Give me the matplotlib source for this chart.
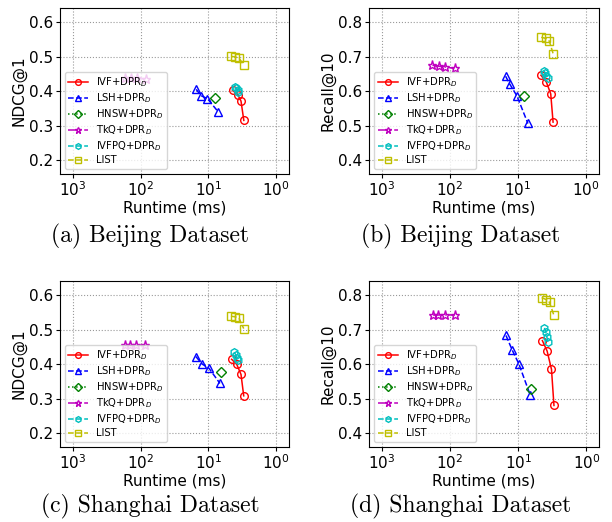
import numpy as np
import matplotlib
matplotlib.use('Agg')
import matplotlib.pyplot as plt

# runtime (ms) / score pairs
methods = ['IVF+DPR$_D$', 'LSH+DPR$_D$', 'HNSW+DPR$_D$', 'TkQ+DPR$_D$', 'IVFPQ+DPR$_D$', 'LIST']

# (a) Beijing, NDCG@1
bj_ndcg_x = {
    'IVF': [4.4, 3.7, 3.3, 3.0],
    'LSH': [15.1, 12.9, 10.3, 7.1],
    'HNSW': [8.1],
    'TkQ': [169, 138, 114, 84],
    'IVFPQ': [4.0, 3.9, 3.7, 3.6],
    'LIST': [4.56, 4.03, 3.55, 3.0],
}
bj_ndcg_y = {
    'IVF': [0.402, 0.390, 0.371, 0.315],
    'LSH': [0.405, 0.387, 0.378, 0.339],
    'HNSW': [0.381],
    'TkQ': [0.438, 0.437, 0.437, 0.436],
    'IVFPQ': [0.412, 0.408, 0.403, 0.398],
    'LIST': [0.501, 0.499, 0.496, 0.476],
}

# (b) Beijing, Recall@10
bj_rec_x = {
    'IVF': [4.57, 3.8, 3.28, 3.03],
    'LSH': [15.1, 13.2, 10.3, 7.1],
    'HNSW': [8.1],
    'TkQ': [180, 145, 118, 85],
    'IVFPQ': [4.12, 3.94, 3.8, 3.63],
    'LIST': [4.52, 3.89, 3.44, 3.03],
}
bj_rec_y = {
    'IVF': [0.646, 0.626, 0.592, 0.510],
    'LSH': [0.643, 0.621, 0.586, 0.506],
    'HNSW': [0.587],
    'TkQ': [0.675, 0.672, 0.670, 0.666],
    'IVFPQ': [0.658, 0.653, 0.645, 0.639],
    'LIST': [0.756, 0.753, 0.745, 0.709],
}

# (c) Shanghai, NDCG@1
sh_ndcg_x = {
    'IVF': [4.54, 3.83, 3.30, 3.01],
    'LSH': [15.3, 12.3, 9.8, 6.75],
    'HNSW': [6.6],
    'TkQ': [172, 145, 116, 85],
    'IVFPQ': [4.14, 3.95, 3.83, 3.70],
    'LIST': [4.64, 4.0, 3.53, 3.01],
}
sh_ndcg_y = {
    'IVF': [0.414, 0.400, 0.370, 0.308],
    'LSH': [0.422, 0.400, 0.388, 0.344],
    'HNSW': [0.376],
    'TkQ': [0.454, 0.454, 0.454, 0.455],
    'IVFPQ': [0.434, 0.427, 0.419, 0.412],
    'LIST': [0.539, 0.537, 0.533, 0.503],
}

# (d) Shanghai, Recall@10
sh_rec_x = {
    'IVF': [4.42, 3.77, 3.25, 2.99],
    'LSH': [15.1, 12.2, 9.8, 6.66],
    'HNSW': [6.44],
    'TkQ': [176, 149, 118, 85],
    'IVFPQ': [4.12, 3.94, 3.80, 3.68],
    'LIST': [4.52, 3.89, 3.47, 2.99],
}
sh_rec_y = {
    'IVF': [0.668, 0.638, 0.585, 0.480],
    'LSH': [0.683, 0.640, 0.601, 0.510],
    'HNSW': [0.529],
    'TkQ': [0.741, 0.741, 0.741, 0.741],
    'IVFPQ': [0.705, 0.693, 0.679, 0.664],
    'LIST': [0.793, 0.787, 0.779, 0.741],
}

keys = ['IVF', 'LSH', 'HNSW', 'TkQ', 'IVFPQ', 'LIST']
styles = {
    'IVF': ('r', 'o', '-'),
    'LSH': ('b', '^', '--'),
    'HNSW': ('g', 'D', ':'),
    'TkQ': ('m', '*', '-.'),
    'IVFPQ': ('c', 'h', '--'),
    'LIST': ('y', 's', '--'),
}

panels = [
    (bj_ndcg_x, bj_ndcg_y, 'NDCG@1', (0.16, 0.64), [0.2, 0.3, 0.4, 0.5, 0.6], '(a) Beijing Dataset'),
    (bj_rec_x, bj_rec_y, 'Recall@10', (0.36, 0.84), [0.4, 0.5, 0.6, 0.7, 0.8], '(b) Beijing Dataset'),
    (sh_ndcg_x, sh_ndcg_y, 'NDCG@1', (0.16, 0.64), [0.2, 0.3, 0.4, 0.5, 0.6], '(c) Shanghai Dataset'),
    (sh_rec_x, sh_rec_y, 'Recall@10', (0.36, 0.84), [0.4, 0.5, 0.6, 0.7, 0.8], '(d) Shanghai Dataset'),
]

rects = [
    [0.098, 0.667, 0.374, 0.317],
    [0.603, 0.667, 0.375, 0.317],
    [0.098, 0.144, 0.374, 0.317],
    [0.603, 0.144, 0.376, 0.317],
]
captions_xy = [(0.245, 0.547), (0.753, 0.547), (0.245, 0.029), (0.753, 0.029)]

fig = plt.figure(figsize=(6.12, 5.22), dpi=100)

for (xs, ys, ylab, ylim, yticks, cap), rect, cxy in zip(panels, rects, captions_xy):
    ax = fig.add_axes(rect)
    for k, lab in zip(keys, methods):
        c, m, ls = styles[k]
        ms = 6.5 if m == '*' else 5.5
        ax.plot(xs[k], ys[k], color=c, marker=m, linestyle=ls, linewidth=1.1,
                markersize=ms, markerfacecolor='none', markeredgewidth=1.0, label=lab)
    ax.set_xscale('log')
    ax.set_xlim(1540, 0.65)
    ax.set_ylim(*ylim)
    ax.set_xticks([1000, 100, 10, 1])
    ax.minorticks_off()
    ax.set_yticks(yticks)
    ax.tick_params(labelsize=11, length=3, pad=2)
    ax.grid(True, color='gray', linestyle=':', linewidth=0.8, alpha=0.8)
    ax.set_xlabel('Runtime (ms)', fontsize=11, labelpad=1)
    ax.set_ylabel(ylab, fontsize=11, labelpad=2)
    ax.legend(loc='lower left', fontsize=7.2, markerscale=0.75, borderaxespad=0.5,
              handlelength=2.0, labelspacing=0.22, borderpad=0.35)
    fig.text(cxy[0], cxy[1], cap, family='cmr10', fontsize=17, ha='center', va='center')

fig.savefig('out.png', dpi=100)
